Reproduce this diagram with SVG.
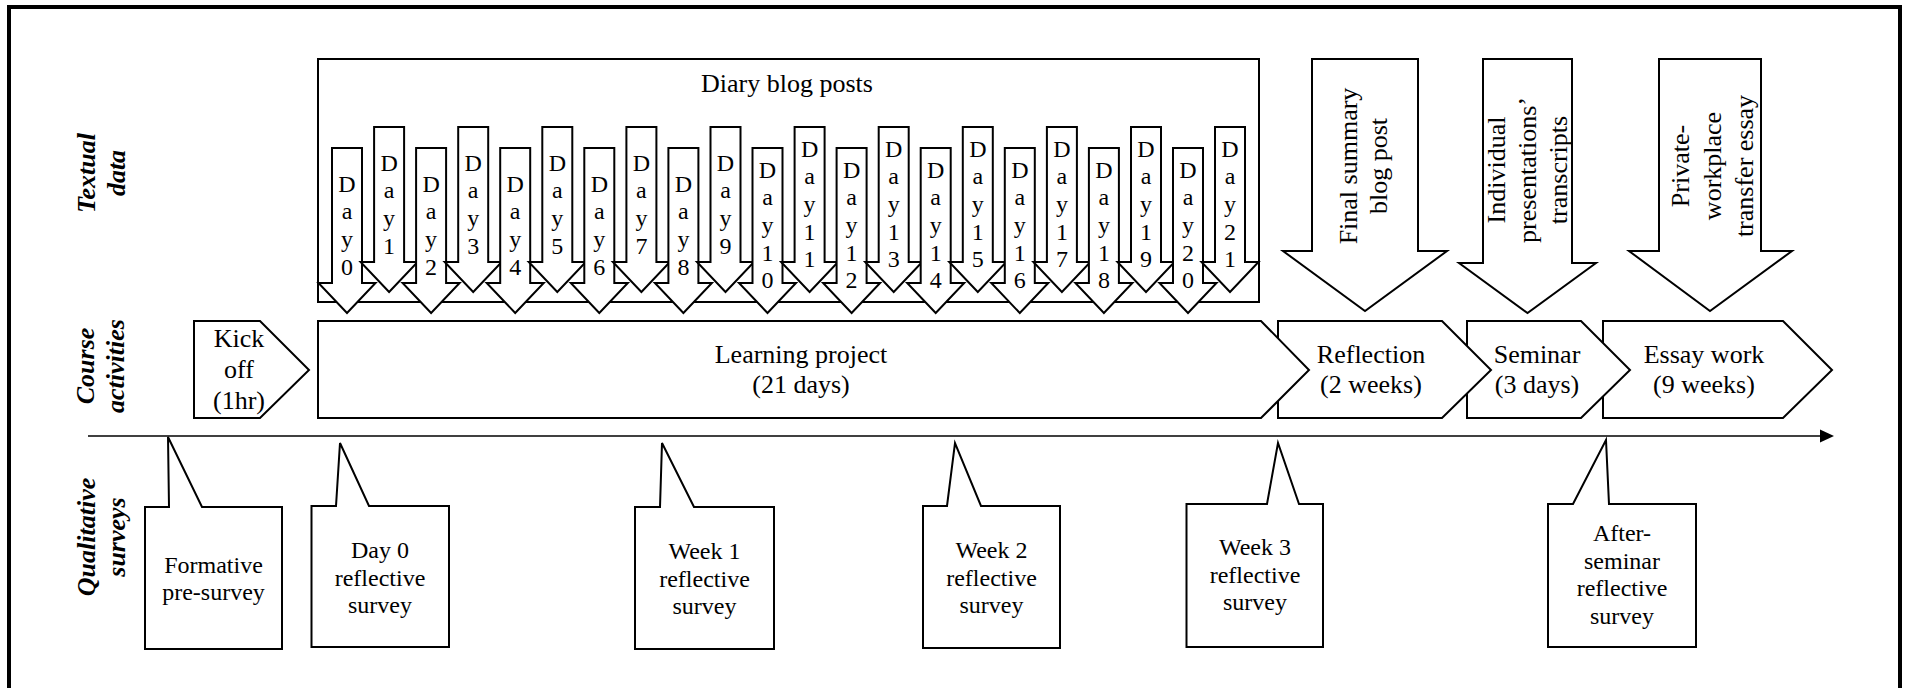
<svg xmlns="http://www.w3.org/2000/svg" xmlns:xlink="http://www.w3.org/1999/xlink" width="1905" height="688" viewBox="0 0 1905 688">
<style>
.s{fill:#fff;stroke:#000;stroke-width:2;stroke-linejoin:miter}
.t{font-family:"Liberation Serif","Times New Roman",serif;fill:#000}
.lbl{font-weight:bold;font-style:italic;font-size:26px;text-anchor:middle}
.m{font-size:26px;text-anchor:middle}
.c{font-size:24px;text-anchor:middle}
.d{font-size:24px;text-anchor:middle}
</style>
<defs>
<path id="dayArrow" class="s" d="M-15,0 L15,0 L15,135 L28.5,135 L0,165 L-28.5,135 L-15,135 Z"/>
</defs>
<rect width="1905" height="688" fill="#fff"/>
<path d="M9,692 L9,7 L1900,7 L1900,692" fill="none" stroke="#000" stroke-width="4"/>

<g id="label-textual"><text class="t lbl" transform="translate(95,173) rotate(-90)"><tspan x="0" y="0">Textual</tspan><tspan x="0" y="30">data</tspan></text></g>
<g id="label-course"><text class="t lbl" transform="translate(94,366) rotate(-90)"><tspan x="0" y="0">Course</tspan><tspan x="0" y="30">activities</tspan></text></g>
<g id="label-qualitative"><text class="t lbl" transform="translate(95,537) rotate(-90)"><tspan x="0" y="0">Qualitative</tspan><tspan x="0" y="30">surveys</tspan></text></g>

<g id="diary-box"><rect class="s" x="318" y="59" width="941" height="243"/><text class="t m" x="787" y="92">Diary blog posts</text></g>

<g id="day0" transform="translate(347,148)"><use xlink:href="#dayArrow"/><text class="t d"><tspan x="0" y="43.5">D</tspan><tspan x="0" y="71.2">a</tspan><tspan x="0" y="98.9">y</tspan><tspan x="0" y="126.6">0</tspan></text></g>
<g id="day1" transform="translate(389.1,127)"><use xlink:href="#dayArrow"/><text class="t d"><tspan x="0" y="43.5">D</tspan><tspan x="0" y="71.2">a</tspan><tspan x="0" y="98.9">y</tspan><tspan x="0" y="126.6">1</tspan></text></g>
<g id="day2" transform="translate(431.1,148)"><use xlink:href="#dayArrow"/><text class="t d"><tspan x="0" y="43.5">D</tspan><tspan x="0" y="71.2">a</tspan><tspan x="0" y="98.9">y</tspan><tspan x="0" y="126.6">2</tspan></text></g>
<g id="day3" transform="translate(473.2,127)"><use xlink:href="#dayArrow"/><text class="t d"><tspan x="0" y="43.5">D</tspan><tspan x="0" y="71.2">a</tspan><tspan x="0" y="98.9">y</tspan><tspan x="0" y="126.6">3</tspan></text></g>
<g id="day4" transform="translate(515.2,148)"><use xlink:href="#dayArrow"/><text class="t d"><tspan x="0" y="43.5">D</tspan><tspan x="0" y="71.2">a</tspan><tspan x="0" y="98.9">y</tspan><tspan x="0" y="126.6">4</tspan></text></g>
<g id="day5" transform="translate(557.3,127)"><use xlink:href="#dayArrow"/><text class="t d"><tspan x="0" y="43.5">D</tspan><tspan x="0" y="71.2">a</tspan><tspan x="0" y="98.9">y</tspan><tspan x="0" y="126.6">5</tspan></text></g>
<g id="day6" transform="translate(599.3,148)"><use xlink:href="#dayArrow"/><text class="t d"><tspan x="0" y="43.5">D</tspan><tspan x="0" y="71.2">a</tspan><tspan x="0" y="98.9">y</tspan><tspan x="0" y="126.6">6</tspan></text></g>
<g id="day7" transform="translate(641.4,127)"><use xlink:href="#dayArrow"/><text class="t d"><tspan x="0" y="43.5">D</tspan><tspan x="0" y="71.2">a</tspan><tspan x="0" y="98.9">y</tspan><tspan x="0" y="126.6">7</tspan></text></g>
<g id="day8" transform="translate(683.4,148)"><use xlink:href="#dayArrow"/><text class="t d"><tspan x="0" y="43.5">D</tspan><tspan x="0" y="71.2">a</tspan><tspan x="0" y="98.9">y</tspan><tspan x="0" y="126.6">8</tspan></text></g>
<g id="day9" transform="translate(725.5,127)"><use xlink:href="#dayArrow"/><text class="t d"><tspan x="0" y="43.5">D</tspan><tspan x="0" y="71.2">a</tspan><tspan x="0" y="98.9">y</tspan><tspan x="0" y="126.6">9</tspan></text></g>
<g id="day10" transform="translate(767.5,148)"><use xlink:href="#dayArrow"/><text class="t d"><tspan x="0" y="29.6">D</tspan><tspan x="0" y="57.3">a</tspan><tspan x="0" y="85">y</tspan><tspan x="0" y="112.7">1</tspan><tspan x="0" y="140.4">0</tspan></text></g>
<g id="day11" transform="translate(809.6,127)"><use xlink:href="#dayArrow"/><text class="t d"><tspan x="0" y="29.6">D</tspan><tspan x="0" y="57.3">a</tspan><tspan x="0" y="85">y</tspan><tspan x="0" y="112.7">1</tspan><tspan x="0" y="140.4">1</tspan></text></g>
<g id="day12" transform="translate(851.6,148)"><use xlink:href="#dayArrow"/><text class="t d"><tspan x="0" y="29.6">D</tspan><tspan x="0" y="57.3">a</tspan><tspan x="0" y="85">y</tspan><tspan x="0" y="112.7">1</tspan><tspan x="0" y="140.4">2</tspan></text></g>
<g id="day13" transform="translate(893.7,127)"><use xlink:href="#dayArrow"/><text class="t d"><tspan x="0" y="29.6">D</tspan><tspan x="0" y="57.3">a</tspan><tspan x="0" y="85">y</tspan><tspan x="0" y="112.7">1</tspan><tspan x="0" y="140.4">3</tspan></text></g>
<g id="day14" transform="translate(935.7,148)"><use xlink:href="#dayArrow"/><text class="t d"><tspan x="0" y="29.6">D</tspan><tspan x="0" y="57.3">a</tspan><tspan x="0" y="85">y</tspan><tspan x="0" y="112.7">1</tspan><tspan x="0" y="140.4">4</tspan></text></g>
<g id="day15" transform="translate(977.8,127)"><use xlink:href="#dayArrow"/><text class="t d"><tspan x="0" y="29.6">D</tspan><tspan x="0" y="57.3">a</tspan><tspan x="0" y="85">y</tspan><tspan x="0" y="112.7">1</tspan><tspan x="0" y="140.4">5</tspan></text></g>
<g id="day16" transform="translate(1019.8,148)"><use xlink:href="#dayArrow"/><text class="t d"><tspan x="0" y="29.6">D</tspan><tspan x="0" y="57.3">a</tspan><tspan x="0" y="85">y</tspan><tspan x="0" y="112.7">1</tspan><tspan x="0" y="140.4">6</tspan></text></g>
<g id="day17" transform="translate(1061.9,127)"><use xlink:href="#dayArrow"/><text class="t d"><tspan x="0" y="29.6">D</tspan><tspan x="0" y="57.3">a</tspan><tspan x="0" y="85">y</tspan><tspan x="0" y="112.7">1</tspan><tspan x="0" y="140.4">7</tspan></text></g>
<g id="day18" transform="translate(1103.9,148)"><use xlink:href="#dayArrow"/><text class="t d"><tspan x="0" y="29.6">D</tspan><tspan x="0" y="57.3">a</tspan><tspan x="0" y="85">y</tspan><tspan x="0" y="112.7">1</tspan><tspan x="0" y="140.4">8</tspan></text></g>
<g id="day19" transform="translate(1146,127)"><use xlink:href="#dayArrow"/><text class="t d"><tspan x="0" y="29.6">D</tspan><tspan x="0" y="57.3">a</tspan><tspan x="0" y="85">y</tspan><tspan x="0" y="112.7">1</tspan><tspan x="0" y="140.4">9</tspan></text></g>
<g id="day20" transform="translate(1188,148)"><use xlink:href="#dayArrow"/><text class="t d"><tspan x="0" y="29.6">D</tspan><tspan x="0" y="57.3">a</tspan><tspan x="0" y="85">y</tspan><tspan x="0" y="112.7">2</tspan><tspan x="0" y="140.4">0</tspan></text></g>
<g id="day21" transform="translate(1230,127)"><use xlink:href="#dayArrow"/><text class="t d"><tspan x="0" y="29.6">D</tspan><tspan x="0" y="57.3">a</tspan><tspan x="0" y="85">y</tspan><tspan x="0" y="112.7">2</tspan><tspan x="0" y="140.4">1</tspan></text></g>

<g id="final-summary"><path class="s" d="M1312,59 L1418,59 L1418,251 L1447,251 L1365,311 L1283,251 L1312,251 Z"/><text class="t m" transform="translate(1357,166) rotate(-90)"><tspan x="0" y="0">Final summary</tspan><tspan x="0" y="30">blog post</tspan></text></g>
<g id="presentations"><path class="s" d="M1483,59 L1572,59 L1572,263 L1596,263 L1527.5,313 L1459,263 L1483,263 Z"/><text class="t m" transform="translate(1505,170) rotate(-90)"><tspan x="0" y="0">Individual</tspan><tspan x="0" y="31">presentations’</tspan><tspan x="0" y="62">transcripts</tspan></text></g>
<g id="essay"><path class="s" d="M1659,59 L1761,59 L1761,251 L1792,251 L1710,311 L1629,251 L1659,251 Z"/><text class="t m" transform="translate(1689,166) rotate(-90)"><tspan x="0" y="0">Private-</tspan><tspan x="0" y="32">workplace</tspan><tspan x="0" y="64">transfer essay</tspan></text></g>

<g id="essay-work"><path class="s" d="M1603,321 L1783,321 L1832,370 L1783,418 L1603,418 Z"/><text class="t m"><tspan x="1704" y="363">Essay work</tspan><tspan x="1704" y="393">(9 weeks)</tspan></text></g>
<g id="seminar"><path class="s" d="M1467,321 L1581,321 L1630,370 L1581,418 L1467,418 Z"/><text class="t m"><tspan x="1537" y="363">Seminar</tspan><tspan x="1537" y="393">(3 days)</tspan></text></g>
<g id="reflection"><path class="s" d="M1278,321 L1442,321 L1491,370 L1442,418 L1278,418 Z"/><text class="t m"><tspan x="1371" y="363">Reflection</tspan><tspan x="1371" y="393">(2 weeks)</tspan></text></g>
<g id="learning-project"><path class="s" d="M318,321 L1261,321 L1309,370 L1261,418 L318,418 Z"/><text class="t m"><tspan x="801" y="363">Learning project</tspan><tspan x="801" y="393">(21 days)</tspan></text></g>
<g id="kick-off"><path class="s" d="M194,321 L260,321 L309,370 L260,418 L194,418 Z"/><text class="t m"><tspan x="239" y="347">Kick</tspan><tspan x="239" y="378">off</tspan><tspan x="239" y="409">(1hr)</tspan></text></g>

<g id="connectors">
<line x1="88" y1="436" x2="1822" y2="436" stroke="#000" stroke-width="1.5"/>
<path d="M1820,429.5 L1834,436 L1820,442.5 Z" fill="#000"/>
</g>

<g id="formative"><path class="s" d="M145,507 L169,507 L168,437 L202,507 L282,507 L282,649 L145,649 Z"/><text class="t c"><tspan x="213.5" y="572.5">Formative</tspan><tspan x="213.5" y="600">pre-survey</tspan></text></g>
<g id="day0-survey"><path class="s" d="M311.5,506 L336,506 L340,443 L369,506 L449,506 L449,647 L311.5,647 Z"/><text class="t c"><tspan x="380" y="558">Day 0</tspan><tspan x="380" y="585.5">reflective</tspan><tspan x="380" y="613">survey</tspan></text></g>
<g id="week1-survey"><path class="s" d="M635,507 L660,507 L662,443 L694,507 L774,507 L774,649 L635,649 Z"/><text class="t c"><tspan x="704.5" y="559">Week 1</tspan><tspan x="704.5" y="586.5">reflective</tspan><tspan x="704.5" y="614">survey</tspan></text></g>
<g id="week2-survey"><path class="s" d="M923,506 L947,506 L955,443 L981,506 L1060,506 L1060,648 L923,648 Z"/><text class="t c"><tspan x="991.5" y="558">Week 2</tspan><tspan x="991.5" y="585.5">reflective</tspan><tspan x="991.5" y="613">survey</tspan></text></g>
<g id="week3-survey"><path class="s" d="M1186.5,504 L1267,504 L1278,443 L1299,504 L1323,504 L1323,647 L1186.5,647 Z"/><text class="t c"><tspan x="1255" y="555">Week 3</tspan><tspan x="1255" y="582.5">reflective</tspan><tspan x="1255" y="610">survey</tspan></text></g>
<g id="after-seminar-survey"><path class="s" d="M1548,504 L1573,504 L1606,440 L1609,504 L1696,504 L1696,647 L1548,647 Z"/><text class="t c"><tspan x="1622" y="541">After-</tspan><tspan x="1622" y="568.5">seminar</tspan><tspan x="1622" y="596">reflective</tspan><tspan x="1622" y="623.5">survey</tspan></text></g>
</svg>
